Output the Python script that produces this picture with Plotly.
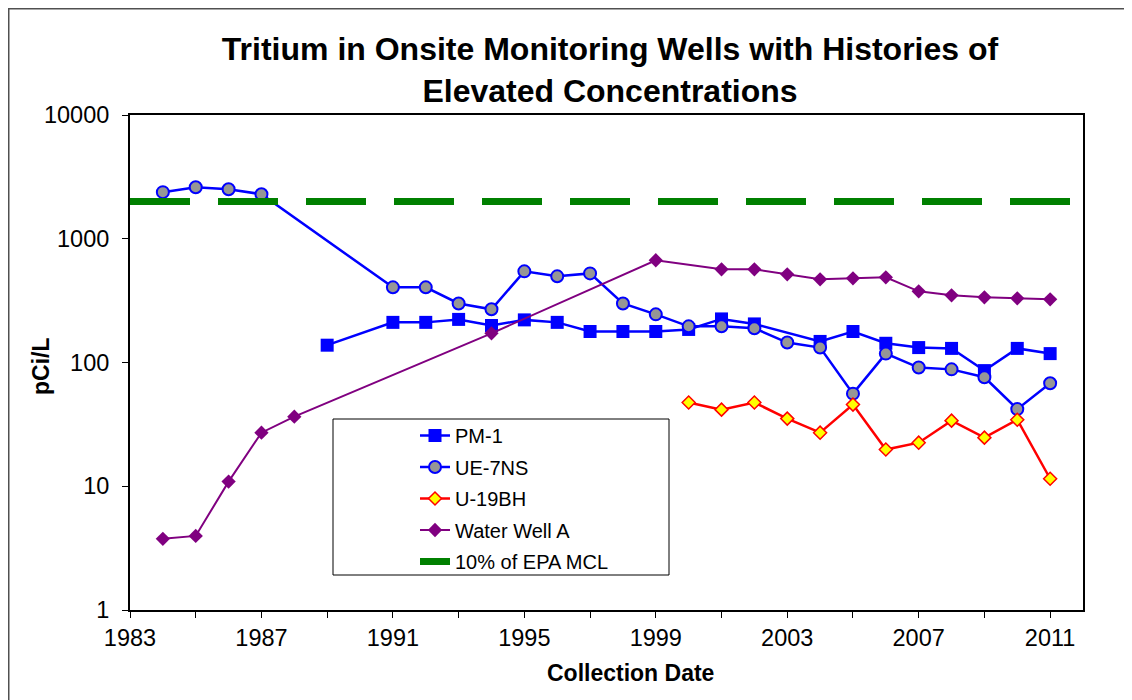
import plotly.graph_objects as go

# ---- data ----
pm1_years = [1989, 1991, 1992, 1993, 1994, 1995, 1996, 1997, 1998, 1999, 2000,
             2001, 2002, 2004, 2005, 2006, 2007, 2008, 2009, 2010, 2011]
pm1_vals = [138, 211, 211, 223, 199, 221, 211, 178, 178, 178, 185,
            225, 205, 148, 178, 143, 132, 130, 86, 130, 118]

ue7ns_years = [1984, 1985, 1986, 1987, 1991, 1992, 1993, 1994, 1995, 1996, 1997,
               1998, 1999, 2000, 2001, 2002, 2003, 2004, 2005, 2006, 2007, 2008,
               2009, 2010, 2011]
ue7ns_vals = [2380, 2610, 2515, 2290, 405, 405, 300, 269, 545, 497, 525,
              300, 245, 196, 196, 189, 145, 132, 56, 118, 91, 88,
              76, 42, 68]

u19bh_years = [2000, 2001, 2002, 2003, 2004, 2005, 2006, 2007, 2008, 2009, 2010, 2011]
u19bh_vals = [47.5, 41.6, 47.5, 35.2, 27.1, 45.7, 19.8, 22.5, 33.9, 24.7, 34.5, 11.5]

wwa_years = [1984, 1985, 1986, 1987, 1988, 1994, 1999, 2001, 2002, 2003, 2004,
             2005, 2006, 2007, 2008, 2009, 2010, 2011]
wwa_vals = [3.76, 3.97, 10.9, 27.1, 36.5, 172, 670, 566, 566, 516, 470,
            479, 488, 376, 349, 336, 330, 324]

mcl_years = [1983, 2012]
mcl_vals = [2000, 2000]

x_tick_years = [1983, 1987, 1991, 1995, 1999, 2003, 2007, 2011]
y_tick_vals = [1, 10, 100, 1000, 10000]
y_tick_text = ["1", "10", "100", "1000", "10000"]

FONT = "Liberation Sans, Arial, sans-serif"

# page offset of the figure (browser body margin)
OFF = 8
W, H = 1132 - OFF, 700 - OFF
# plot area in page pixels: x 130..1083, y 115..610
L = 130 - OFF
T = 115 - OFF
R = W - (1083 - OFF)
B = H - (610 - OFF)
PW = W - L - R
PH = H - T - B


def px_x(p):
    return (p - OFF - L) / PW


def px_y(p):
    return (H - B - (p - OFF)) / PH


fig = go.Figure()

fig.add_trace(go.Scatter(
    x=pm1_years, y=pm1_vals, name="PM-1", mode="lines+markers", legendgroup="a",
    line=dict(color="#0000FF", width=2.5),
    marker=dict(symbol="square", size=13, color="#0000FF", line=dict(width=0))))

fig.add_trace(go.Scatter(
    x=ue7ns_years, y=ue7ns_vals, name="UE-7NS", mode="lines+markers", legendgroup="b",
    line=dict(color="#0000FF", width=2.5),
    marker=dict(symbol="circle", size=12, color="#969696", line=dict(color="#0000FF", width=2))))

fig.add_trace(go.Scatter(
    x=u19bh_years, y=u19bh_vals, name="U-19BH", mode="lines+markers", legendgroup="c",
    line=dict(color="#FF0000", width=2.5),
    marker=dict(symbol="diamond", size=10, color="#FFFF00", line=dict(color="#FF0000", width=1.5))))

fig.add_trace(go.Scatter(
    x=wwa_years, y=wwa_vals, name="Water Well A", mode="lines+markers", legendgroup="d",
    line=dict(color="#800080", width=2),
    marker=dict(symbol="diamond", size=11, color="#800080", line=dict(width=0))))

fig.add_trace(go.Scatter(
    x=mcl_years, y=mcl_vals, name="10% of EPA MCL", mode="lines", legendgroup="e",
    line=dict(color="#008000", width=7, dash="60px,28px")))

shapes = [
    # outer chart border (top and left visible)
    dict(type="rect", xref="paper", yref="paper",
         x0=(0.75 - L) / PW, x1=px_x(1160), y0=(H - B - 0.75) / PH, y1=px_y(720),
         line=dict(color="#505050", width=1.5), fillcolor="rgba(0,0,0,0)", layer="below"),
    # legend box
    dict(type="rect", xref="paper", yref="paper",
         x0=px_x(333), x1=px_x(669), y0=px_y(419), y1=px_y(575),
         line=dict(color="#000000", width=1), fillcolor="white", layer="below"),
]

annotations = [
    dict(text="<b>Collection Date</b>", xref="paper", yref="paper",
         x=px_x(630), y=px_y(673), showarrow=False,
         font=dict(family=FONT, size=23, color="black"), xanchor="center", yanchor="middle"),
    dict(text="<b>pCi/L</b>", xref="paper", yref="paper",
         x=px_x(41), y=px_y(366), showarrow=False, textangle=-90,
         font=dict(family=FONT, size=23, color="black"), xanchor="center", yanchor="middle"),
]

fig.update_layout(
    width=W, height=H,
    margin=dict(l=L, r=R, t=T, b=B),
    paper_bgcolor="white", plot_bgcolor="white",
    font=dict(family=FONT, color="black"),
    title=dict(
        text="<b>Tritium in Onsite Monitoring Wells with Histories of<br>Elevated Concentrations</b>",
        x=px_x(610), xref="paper", xanchor="center",
        y=1 - 52 / H, yref="container", yanchor="middle",
        font=dict(family=FONT, size=32, color="black")),
    showlegend=True,
    legend=dict(
        x=px_x(415), y=px_y(416), xanchor="left", yanchor="top",
        bgcolor="rgba(0,0,0,0)", borderwidth=0,
        font=dict(family=FONT, size=20, color="black"),
        traceorder="grouped", tracegroupgap=2.5),
    shapes=shapes,
    annotations=annotations,
)

fig.update_xaxes(
    range=[1983, 2012], tickvals=x_tick_years, ticktext=[str(v) for v in x_tick_years],
    showgrid=False, zeroline=False,
    showline=True, linecolor="black", linewidth=2, mirror=True,
    ticks="outside", ticklen=6, tickwidth=1, tickcolor="black",
    minor=dict(tick0=1983, dtick=2, ticks="outside", ticklen=6, tickwidth=1, tickcolor="black"),
    tickfont=dict(family=FONT, size=23.5, color="black"))

fig.update_yaxes(
    type="log", range=[0, 4], tickvals=y_tick_vals, ticktext=y_tick_text,
    showgrid=False, zeroline=False,
    showline=True, linecolor="black", linewidth=2, mirror=True,
    ticks="outside", ticklen=6, tickwidth=1, tickcolor="black", ticklabelstandoff=8,
    tickfont=dict(family=FONT, size=23.5, color="black"))

fig.write_html("out.html")
